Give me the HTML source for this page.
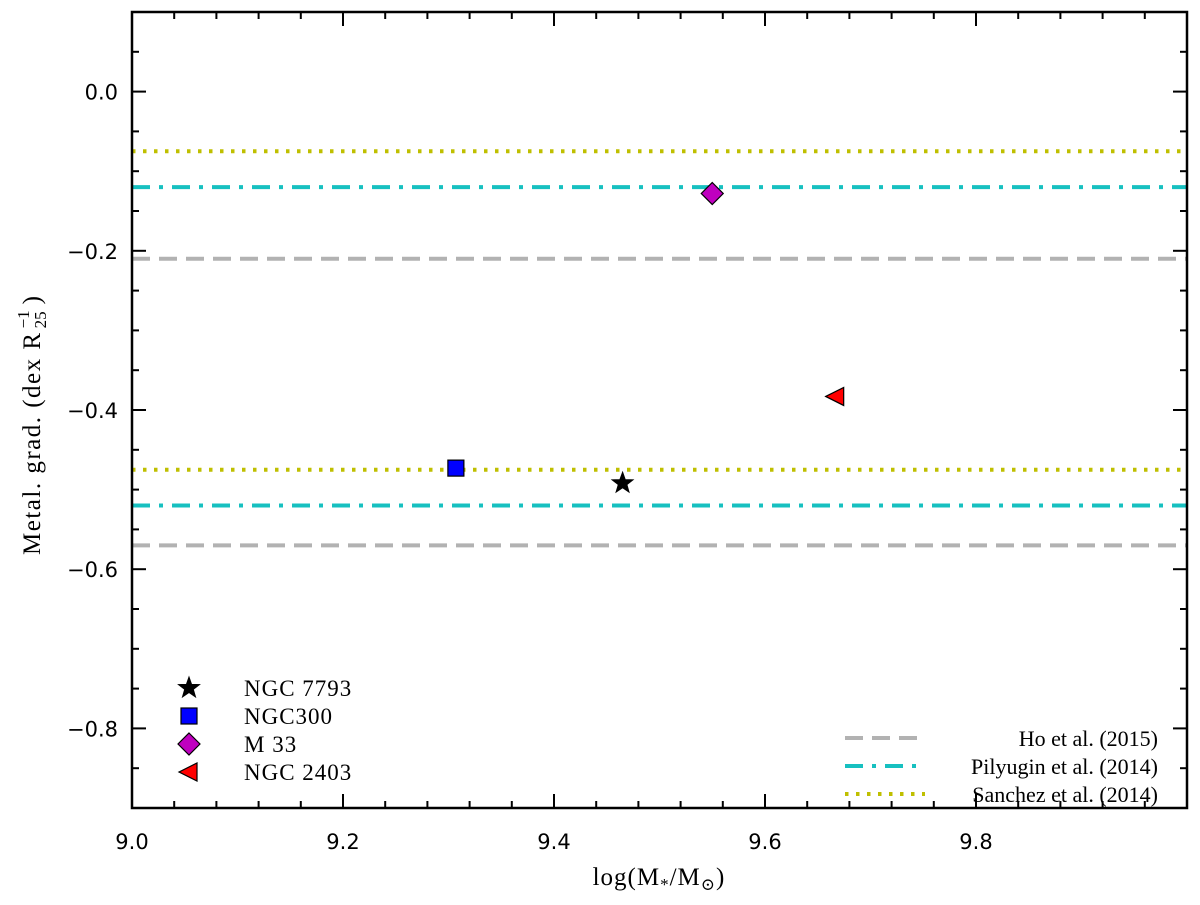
<!DOCTYPE html>
<html><head><meta charset="utf-8"><style>
body{margin:0;background:#fff;}
svg text{font-family:"DejaVu Sans",sans-serif;}
svg text.serif{font-family:"Liberation Serif","DejaVu Serif",serif;}
</style></head><body>
<svg id="chart" width="1200" height="900" xmlns="http://www.w3.org/2000/svg">
<g id="lines"></g>
<g id="points"></g>
<g id="axes"></g>
<g id="legend"></g>
<text class="serif" x="659" y="885" font-size="25" letter-spacing="1" text-anchor="middle">log(M<tspan font-size="17" dy="5">*</tspan><tspan dy="-5">/M</tspan><tspan font-size="17" dy="5">⊙</tspan><tspan dy="-5">)</tspan></text>
<g transform="translate(40,555) rotate(-90)">
<text id="yt" class="serif" x="0" y="0" font-size="25" letter-spacing="1.5">Metal. grad. (dex R</text>
<text id="ysub" class="serif" x="236" y="6" font-size="17">25</text>
<text id="ysup" class="serif" x="236" y="-11" font-size="17">−1</text>
<text id="ypar" class="serif" x="262" y="0" font-size="25">)</text>
</g>
</svg>
<script>
const xTicks=[9.0,9.2,9.4,9.6,9.8];
const yTicks=[0.0,-0.2,-0.4,-0.6,-0.8];
const lineNames=["Ho et al. (2015)","Pilyugin et al. (2014)","Sanchez et al. (2014)"];
const lineUpper=[-0.21,-0.12,-0.075];
const lineLower=[-0.57,-0.52,-0.475];
const galaxyNames=["NGC 7793","NGC300","M 33","NGC 2403"];
const galaxyMass=[9.465,9.307,9.55,9.667];
const galaxyGrad=[-0.492,-0.473,-0.128,-0.383];

// place y-title pieces relative to actual rendered width
(function(){const w=document.getElementById('yt').getComputedTextLength();
  const s=w+3;document.getElementById('ysub').setAttribute('x',s);document.getElementById('ysup').setAttribute('x',s);
  document.getElementById('ypar').setAttribute('x',s+24);})();

const L=132,R=1187,T=12,B=808,X0=9.0,X1=10.0,Y0=-0.9,Y1=0.1;
const sx=v=>L+(v-X0)/(X1-X0)*(R-L);
const sy=v=>B-(v-Y0)/(Y1-Y0)*(B-T);
const NS="http://www.w3.org/2000/svg";
function mk(tag,attrs,parent){const e=document.createElementNS(NS,tag);for(const k in attrs)e.setAttribute(k,attrs[k]);parent.appendChild(e);return e;}
const lineStyles=[{c:"#b2b2b2",d:"18,9",w:4},{c:"#17c0c0",d:"18,9,4,9",w:4},{c:"#bfbf00",d:"3.5,7.5",w:4}];
const lg=document.getElementById('lines');
for(let i=0;i<lineNames.length;i++){
  for(const v of [lineUpper[i],lineLower[i]]){
    const l=mk('line',{x1:L,x2:R,y1:sy(v),y2:sy(v),stroke:lineStyles[i].c,'stroke-width':lineStyles[i].w,'stroke-dasharray':lineStyles[i].d},lg);
    
    
  }
}
function marker(kind,cx,cy,parent){
  let e;
  if(kind==0){let p=[];for(let k=0;k<10;k++){const r=k%2?4.5:11;const a=-Math.PI/2+k*Math.PI/5;p.push((cx+r*Math.cos(a)).toFixed(1)+","+(cy+r*Math.sin(a)).toFixed(1));}
    e=mk('polygon',{points:p.join(' '),fill:'#000',stroke:'#000','stroke-width':1},parent);}
  else if(kind==1){e=mk('rect',{x:cx-8,y:cy-8,width:16,height:16,fill:'#0000ff',stroke:'#000','stroke-width':1.2},parent);}
  else if(kind==2){e=mk('polygon',{points:`${cx},${cy-11} ${cx+11},${cy} ${cx},${cy+11} ${cx-11},${cy}`,fill:'#bf00bf',stroke:'#000','stroke-width':1.2},parent);}
  else {e=mk('polygon',{points:`${cx-10},${cy} ${cx+8},${cy-9} ${cx+8},${cy+9}`,fill:'#ff0000',stroke:'#000','stroke-width':1.2},parent);}
  return e;
}
const pg=document.getElementById('points');
for(let i=0;i<galaxyNames.length;i++){
  const m=marker(i,sx(galaxyMass[i]),sy(galaxyGrad[i]),pg);
  
  
}
const ag=document.getElementById('axes');
mk('rect',{x:L,y:T,width:R-L,height:B-T,fill:'none',stroke:'#000','stroke-width':2.5},ag);
for(let v=9.0;v<10.0001;v+=0.04){const x=sx(v);const maj=Math.abs(Math.round(v*10)/10-v)<1e-6&&Math.round(v*10)%2==0;const len=maj?14:7;
  mk('line',{x1:x,x2:x,y1:B,y2:B-len,stroke:'#000','stroke-width':2},ag);mk('line',{x1:x,x2:x,y1:T,y2:T+len,stroke:'#000','stroke-width':2},ag);}
for(let k=0;k<=20;k++){const v=-0.9+k*0.05;const y=sy(v);const maj=k%4==2;const len=maj?14:7;
  mk('line',{x1:L,x2:L+len,y1:y,y2:y,stroke:'#000','stroke-width':2},ag);mk('line',{x1:R,x2:R-len,y1:y,y2:y,stroke:'#000','stroke-width':2},ag);}
for(const v of xTicks){const t=mk('text',{x:sx(v),y:B+41,'font-size':21,'text-anchor':'middle'},ag);t.textContent=v.toFixed(1);
  
  }
for(const v of yTicks){const t=mk('text',{x:L-14,y:sy(v)+8,'font-size':21,'text-anchor':'end'},ag);t.textContent=(v<0?'−':'')+Math.abs(v).toFixed(1);
  
  }
const leg=document.getElementById('legend');
for(let i=0;i<galaxyNames.length;i++){const y=688+i*28;
  const m=marker(i,189,y,leg);
  
  
  const t=mk('text',{x:244,y:y+8,'font-size':23,'letter-spacing':1,class:'serif'},leg);t.textContent=galaxyNames[i];
  
  }
for(let i=0;i<lineNames.length;i++){const y=738+i*28;
  const l=mk('line',{x1:845,x2:925,y1:y,y2:y,stroke:lineStyles[i].c,'stroke-width':4,'stroke-dasharray':lineStyles[i].d},leg);
  
  
  const t=mk('text',{x:1158,y:y+8,'font-size':22,class:'serif','text-anchor':'end'},leg);t.textContent=lineNames[i];
  
  }
</script>
</body></html>
